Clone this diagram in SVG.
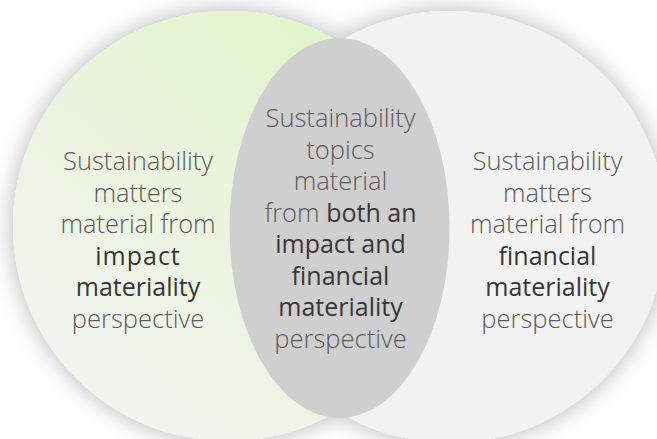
<svg xmlns="http://www.w3.org/2000/svg" width="657" height="439" viewBox="0 0 657 439">
  <defs>
    <linearGradient id="impactFill" x1="0.85" y1="0.1" x2="0.15" y2="0.9">
      <stop offset="0" stop-color="#e1f4c9"/>
      <stop offset="0.5" stop-color="#ebf3de"/>
      <stop offset="1" stop-color="#f3f3f1"/>
    </linearGradient>
    <filter id="softShadow" x="-20%" y="-20%" width="140%" height="140%">
      <feDropShadow dx="0" dy="0" stdDeviation="12" flood-color="#000" flood-opacity="0.3"/>
    </filter>
    <style>
      text { font-family: "Open Sans", "Noto Sans", "DejaVu Sans", sans-serif; text-anchor: middle; }
      .light { font-size: 25.5px; font-weight: 300; fill: #5a5a5a; }
      .strong { font-size: 25px; font-weight: 400; fill: #363636; }
    </style>
  </defs>

  <rect width="657" height="439" fill="#ffffff"/>

  <!-- Two overlapping circles with a shared soft shadow -->
  <g id="circles" filter="url(#softShadow)">
    <circle id="financial-circle" cx="450" cy="227" r="216" fill="#f2f2f2"/>
    <circle id="impact-circle" cx="228" cy="226" r="215" fill="url(#impactFill)"/>
  </g>

  <!-- Overlap: double materiality -->
  <g id="overlap">
    <ellipse cx="339.5" cy="228" rx="110" ry="190" fill="#cfcfcf"/>
  </g>

  <g id="connectors"></g>

  <!-- Left label: impact materiality -->
  <g id="impact-label">
    <text x="138" y="170" class="light">Sustainability</text>
    <text x="138" y="201.5" class="light">matters</text>
    <text x="138" y="233" class="light">material from</text>
    <text x="138" y="264.5" class="strong" letter-spacing="1">impact</text>
    <text x="138" y="296" class="strong">materiality</text>
    <text x="138" y="327.5" class="light">perspective</text>
  </g>

  <!-- Centre label: both perspectives -->
  <g id="double-label">
    <text x="340.5" y="127" class="light">Sustainability</text>
    <text x="340.5" y="158.5" class="light">topics</text>
    <text x="340.5" y="190" class="light">material</text>
    <text x="340.5" y="221.5"><tspan class="light">from </tspan><tspan class="strong">both an</tspan></text>
    <text x="340.5" y="253" class="strong">impact and</text>
    <text x="340.5" y="284.5" class="strong">financial</text>
    <text x="340.5" y="316" class="strong">materiality</text>
    <text x="340.5" y="347.5" class="light">perspective</text>
  </g>

  <!-- Right label: financial materiality -->
  <g id="financial-label">
    <text x="547.5" y="170" class="light">Sustainability</text>
    <text x="547.5" y="201.5" class="light">matters</text>
    <text x="547.5" y="233" class="light">material from</text>
    <text x="547.5" y="264.5" class="strong">financial</text>
    <text x="547.5" y="296" class="strong">materiality</text>
    <text x="547.5" y="327.5" class="light">perspective</text>
  </g>
</svg>
